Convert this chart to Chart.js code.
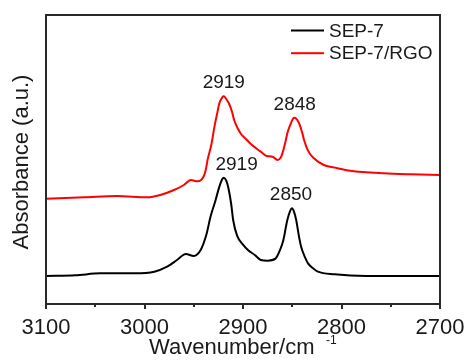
<!DOCTYPE html>
<html>
<head>
<meta charset="utf-8">
<script src="https://cdn.jsdelivr.net/npm/chart.js@4.4.1/dist/chart.umd.min.js"></script>
<style>
  html, body { margin: 0; padding: 0; background: #fff; }
  #wrap { width: 466px; height: 362px; }
</style>
</head>
<body>
<div id="wrap"><canvas id="chartContainer" width="466" height="362"></canvas></div>
<script>
"use strict";

// 1: data (wavenumber in cm-1, absorbance in arbitrary units)
let sepWn  = [3100, 3070, 3045, 3010, 2990, 2977, 2967, 2958, 2950, 2943, 2937, 2933, 2928, 2924, 2921, 2919.5, 2917, 2915, 2912, 2910, 2906, 2900, 2895, 2888, 2882, 2875, 2867, 2862, 2859, 2855, 2852, 2850.4, 2848, 2846, 2843, 2841, 2837, 2834, 2828, 2824, 2807, 2775, 2700];
let sepAbs = [8.4, 8.6, 9.2, 9.2, 9.7, 11.2, 13.2, 15.0, 14.4, 16.2, 21, 26.2, 31, 35.2, 37.5, 37.9, 37, 35, 30, 25.2, 20.5, 17.8, 16.2, 14.7, 13.2, 13.0, 13.6, 16.5, 19.2, 25.2, 28, 28.7, 27.5, 25.2, 20, 17.2, 14, 12.2, 10.5, 9.7, 8.9, 8.4, 8.4];

let rgoWn  = [3100, 3061, 3028, 2997, 2984, 2970, 2960, 2953, 2946, 2941, 2938, 2936, 2932, 2929, 2926, 2924, 2921, 2919.5, 2917, 2914, 2911, 2909, 2905, 2902, 2897, 2892, 2887, 2882, 2876, 2870, 2865, 2862, 2860, 2857, 2855, 2851, 2848.2, 2846, 2843, 2840, 2838, 2834, 2828, 2818, 2805, 2791, 2757, 2730, 2700];
let rgoAbs = [31.6, 32.0, 32.4, 32.0, 32.7, 34.2, 35.7, 37.2, 36.8, 37.7, 40, 43.2, 48, 53.2, 57.5, 60.2, 62, 62.3, 61.5, 60, 57.5, 55.2, 52.5, 51, 49.5, 48, 46.8, 45.7, 44.4, 44.2, 43.2, 43.8, 45.2, 48.5, 51.2, 54.5, 55.9, 55.6, 54.2, 51.5, 49.2, 46, 43.7, 41.7, 40.8, 40, 39.2, 38.9, 38.7];

let seriesNames = ['SEP-7', 'SEP-7/RGO'];

// peak labels: text, wavenumber, absorbance where the label sits
let peakText = ['2919', '2848', '2919', '2850'];
let peakWn   = [2919.5, 2847.5, 2906.5, 2851.3];
let peakAbs  = [66.3, 59.7, 41.7, 32.7];

// x ticks every 50, labelled every 100
let xTicks = [3100, 3050, 3000, 2950, 2900, 2850, 2800, 2750, 2700];

// 2: prepare data for chart
function toPoints(xs, ys) {
  return xs.map((x, i) => ({ x: x, y: ys[i] }));
}

const FONT = "'Liberation Sans', Arial, sans-serif";
const TEXT = '#1a1a1a';
const AXIS = '#2a2a2a';

// 3: frame, ticks and text drawn on the canvas
const extras = {
  id: 'extras',
  afterDraw(chart) {
    const ctx = chart.ctx;
    const a = chart.chartArea;
    const sx = chart.scales.x, sy = chart.scales.y;
    const L = Math.round(a.left), R = Math.round(a.right);
    const T = Math.round(a.top), B = Math.round(a.bottom);
    ctx.save();

    // frame, whole-pixel strips
    ctx.fillStyle = AXIS;
    ctx.fillRect(L - 1, T - 1, R - L + 2, 2);
    ctx.fillRect(L - 1, B - 1, R - L + 2, 2);
    ctx.fillRect(L - 1, T - 1, 2, B - T + 2);
    ctx.fillRect(R - 1, T - 1, 2, B - T + 2);

    // ticks below the axis, long every 100 and short every 50
    xTicks.forEach((v) => {
      const px = Math.round(sx.getPixelForValue(v));
      ctx.fillRect(px - 1, B, 2, v % 100 === 0 ? 5 : 3);
    });

    // peak labels
    ctx.fillStyle = TEXT;
    ctx.font = '19px ' + FONT;
    ctx.textAlign = 'center';
    ctx.textBaseline = 'middle';
    peakText.forEach((t, i) => {
      ctx.fillText(t, sx.getPixelForValue(peakWn[i]), sy.getPixelForValue(peakAbs[i]));
    });

    // legend
    ctx.textAlign = 'left';
    chart.data.datasets.forEach((ds, i) => {
      const y = 30.5 + i * 22.7;
      ctx.fillStyle = ds.borderColor;
      ctx.fillRect(291, y - 1, 33, 2);
      ctx.fillStyle = TEXT;
      ctx.fillText(ds.label, 329, y + 1);
    });

    // x title with superscript
    ctx.font = '22px ' + FONT;
    ctx.textBaseline = 'alphabetic';
    ctx.fillText('Wavenumber/cm', 149, 354);
    ctx.font = '12px ' + FONT;
    ctx.fillText('-1', 326, 344);

    // y title
    ctx.translate(22, 162);
    ctx.rotate(-Math.PI / 2);
    ctx.font = '22px ' + FONT;
    ctx.textAlign = 'center';
    ctx.textBaseline = 'middle';
    ctx.fillText('Absorbance (a.u.)', 0, 0);

    ctx.restore();
  }
};

function appendChart() {
  let chartContainer = document.getElementById('chartContainer');
  new Chart(chartContainer, {
    type: 'line',
    data: {
      datasets: [{
        label: seriesNames[0],
        data: toPoints(sepWn, sepAbs),
        borderColor: '#000000',
        borderWidth: 2,
        pointRadius: 0,
        cubicInterpolationMode: 'monotone'
      }, {
        label: seriesNames[1],
        data: toPoints(rgoWn, rgoAbs),
        borderColor: '#ff0000',
        borderWidth: 2,
        pointRadius: 0,
        cubicInterpolationMode: 'monotone'
      }]
    },
    options: {
      responsive: false,
      animation: false,
      events: [],
      layout: { padding: { top: 15, right: 26, left: 0, bottom: 0 } },
      plugins: { legend: { display: false }, tooltip: { enabled: false } },
      scales: {
        x: {
          type: 'linear',
          reverse: true,
          min: 2700,
          max: 3100,
          afterBuildTicks: (s) => { s.ticks = xTicks.filter(v => v % 100 === 0).map(v => ({ value: v })); },
          afterFit: (s) => { s.height = 58; s.paddingLeft = 0; s.paddingRight = 0; },
          grid: { display: false },
          border: { display: false },
          ticks: {
            padding: 3,
            color: TEXT,
            font: { family: FONT, size: 22 },
            maxRotation: 0,
            autoSkip: false,
            callback: (v) => String(v)
          }
        },
        y: {
          min: 0,
          max: 86.7,
          afterFit: (s) => { s.width = 46; s.paddingTop = 0; s.paddingBottom = 0; },
          grid: { display: false },
          border: { display: false },
          ticks: { display: false }
        }
      }
    },
    plugins: [extras]
  });
}

appendChart();
</script>
</body>
</html>
